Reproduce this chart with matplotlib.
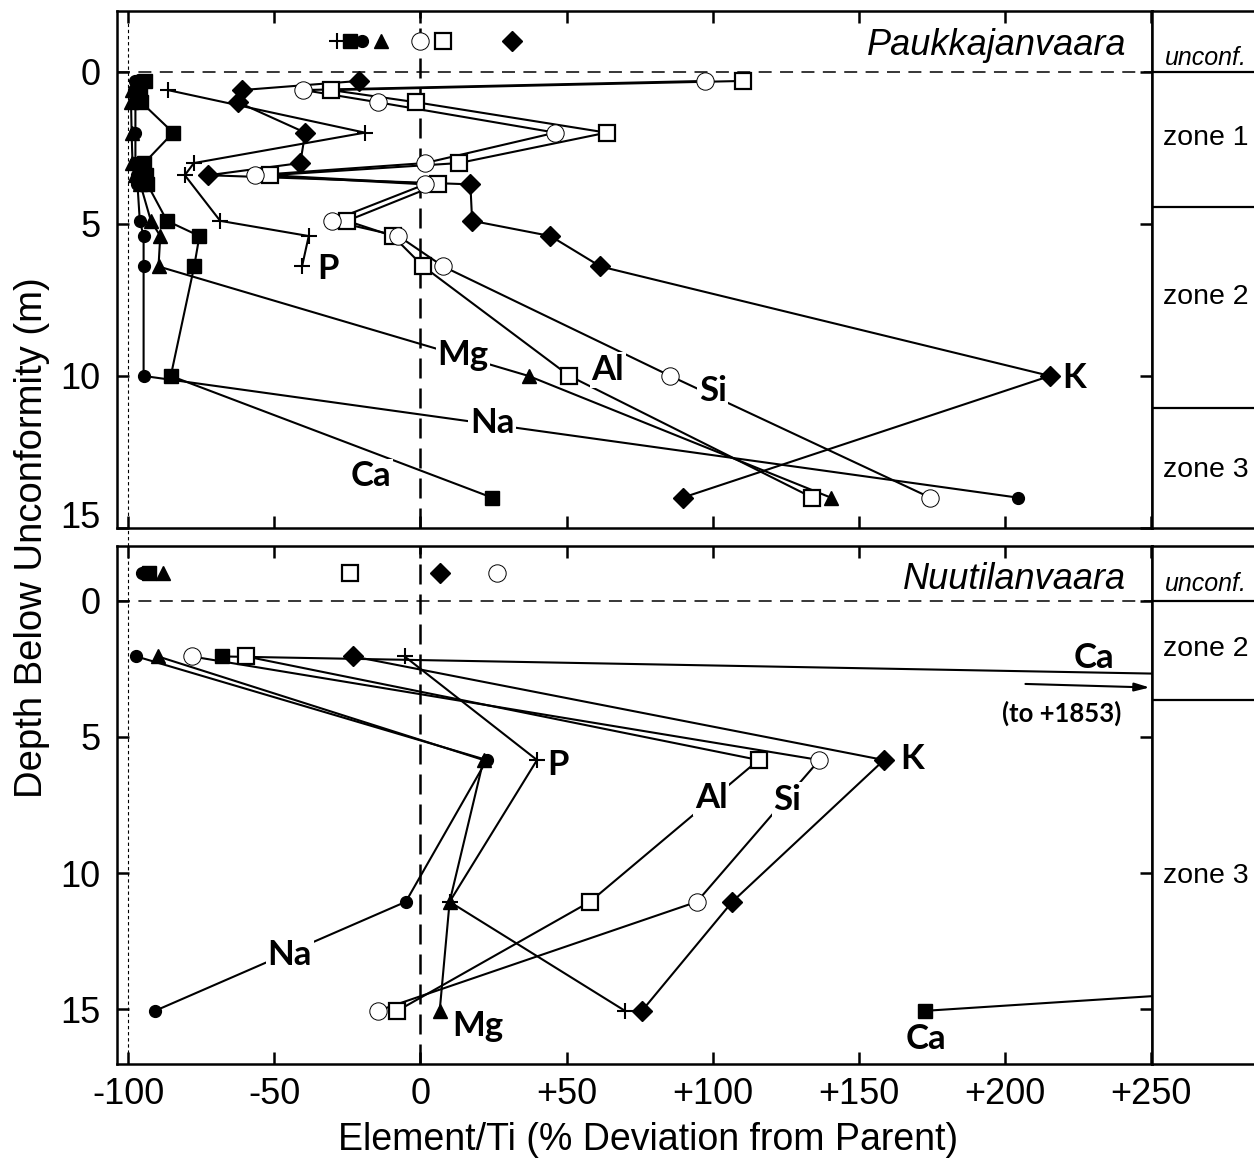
import matplotlib.pyplot as plt
from matplotlib.lines import Line2D

plt.rcParams['font.family'] = ['Liberation Sans', 'DejaVu Sans']

# ---- Paukkajanvaara (upper panel), % deviation of Element/Ti from parent ----
depth_p = [0.3, 0.6, 1.0, 2.0, 3.0, 3.4, 3.7, 4.9, 5.4, 6.4, 10.0, 14.0]
na_p = [-97.5, -98, -97.5, -97.5, -97.5, -97, -96.8, -96, -94.7, -94.7, -94.7, 204.3]
mg_p = [-97, -98.5, -99, -98.8, -98.5, -97.5, -95.8, -92.2, -89, -89.6, 37, 140.4]
ca_p = [-94.2, -96, -95.5, -84.6, -94.5, -94, -93.4, -86.7, -75.6, -77.4, -85.4, 24.5]
k_p = [-21.1, -61.1, -62.4, -39.4, -41.1, -72.5, 17.1, 17.7, 44.5, 61.6, 215.4, 89.8]
al_p = [110.3, -30.5, -1.5, 63.7, 13.2, -51.5, 6.0, -25.1, -9.4, 1.0, 51, 134.1]
si_p = [97.4, -40.0, -14.6, 46.2, 1.6, -56.5, 1.6, -30.3, -7.5, 7.8, 85.5, 174.4]
depth_p_P = [0.6, 2.0, 3.0, 3.4, 4.9, 5.4, 6.4]
p_p = [-86.4, -19.0, -77.5, -80.6, -68.5, -38.2, -40.5]

# parent values plotted above the unconformity
parent_depth = -1.0
parent_p = {'P': -28.5, 'Ca': -24, 'Na': -20, 'Mg': -13.5, 'Si': 0, 'Al': 7.6, 'K': 31.2}

# ---- Nuutilanvaara (lower panel) ----
depth_n = [2.05, 5.85, 11.05, 15.05]
na_n = [-97.2, 22.7, -5.0, -90.8]
mg_n = [-89.8, 21.6, 10.0, 6.6]
ca_n = [-68.0, 1853, 750, 172.6]
k_n = [-23.0, 158.6, 106.7, 75.8]
al_n = [-59.7, 115.7, 58.0, -7.9]
si_n = [-78.3, 136.5, 94.6, -14.6]
p_n = [-5.4, 39.9, 10.0, 70.0]
parent_n = {'Na': -95.2, 'Ca': -93, 'Mg': -88.2, 'Al': -24, 'K': 6.6, 'Si': 26.2}

xticks = [-100, -50, 0, 50, 100, 150, 200, 250]
xticklabels = ['-100', '-50', '0', '+50', '+100', '+150', '+200', '+250']
yticks = [0, 5, 10, 15]

styles = {
    'Na': dict(marker='o', ms=8.5, mfc='black', mec='black', mew=1),
    'Mg': dict(marker='^', ms=10, mfc='black', mec='black', mew=1),
    'Ca': dict(marker='s', ms=10, mfc='black', mec='black', mew=1),
    'K': dict(marker='D', ms=10, mfc='black', mec='black', mew=1),
    'Al': dict(marker='s', ms=12, mfc='white', mec='black', mew=1.6),
    'Si': dict(marker='o', ms=12.5, mfc='white', mec='black', mew=0.7),
    'P': dict(marker='+', ms=12, mfc='black', mec='black', mew=1.5),
}

label_kw = dict(fontsize=25, fontweight='bold', family=['Lato', 'DejaVu Sans'],
                ha='center', va='center', zorder=3,
                bbox=dict(boxstyle='square,pad=0.05', fc='white', ec='none'))


def draw_series(ax, depth, values, name):
    ax.plot(values, depth, color='black', lw=1.5, zorder=2)
    ax.plot(values, depth, ls='none', zorder=4, **styles[name])


def draw_parents(ax, parents):
    for name, v in parents.items():
        ax.plot([v], [parent_depth], ls='none', zorder=4, **styles[name])


def setup_axes(ax, ylim, show_xlabels):
    ax.set_xlim(-103.8, 250.3)
    ax.set_ylim(ylim)
    ax.set_xticks(xticks)
    ax.set_xticklabels(xticklabels)
    ax.set_yticks(yticks)
    ax.tick_params(direction='in', length=8.5, width=1.8, top=True, right=True,
                   labelsize=26, labelbottom=show_xlabels)
    ax.tick_params(axis='x', pad=9)
    ax.tick_params(axis='y', pad=12)
    for s in ax.spines.values():
        s.set_linewidth(1.8)
    ax.axvline(0, color='black', lw=1.8, dashes=(8, 4), zorder=1)
    ax.axhline(0, color='black', lw=1.1, dashes=(8.5, 5.5), zorder=1)


def zone_column(zax, ylim, bounds, labels):
    zax.set_xlim(0, 1)
    zax.set_ylim(ylim)
    zax.set_xticks([])
    zax.set_yticks([])
    zax.spines['right'].set_visible(False)
    for s in zax.spines.values():
        s.set_linewidth(1.8)
    for b in bounds:
        zax.axhline(b, color='black', lw=1.6)
    for text, y, italic, size in labels:
        zax.text(0.52, y, text, ha='center', va='center', fontsize=size,
                 style='italic' if italic else 'normal')


W, H = 1254, 1166
fig = plt.figure(figsize=(W / 100, H / 100), dpi=100)
ax1 = fig.add_axes([117 / W, 1 - 528 / H, (1152 - 117) / W, (528 - 11) / H])
ax2 = fig.add_axes([117 / W, 1 - 1064 / H, (1152 - 117) / W, (1064 - 546) / H])
z1 = fig.add_axes([1152 / W, 1 - 528 / H, 104 / W, (528 - 11) / H])
z2 = fig.add_axes([1152 / W, 1 - 1064 / H, 104 / W, (1064 - 546) / H])

setup_axes(ax1, (15, -2), False)
setup_axes(ax2, (17, -2), True)
# lift the "15" of the upper panel off the panel edge
ax1.get_yticklabels()[-1].set_verticalalignment('baseline')

# upper panel
for name, vals in [('Na', na_p), ('Mg', mg_p), ('Ca', ca_p), ('K', k_p),
                   ('Al', al_p), ('Si', si_p)]:
    draw_series(ax1, depth_p, vals, name)
draw_series(ax1, depth_p_P, p_p, 'P')
draw_parents(ax1, parent_p)

ax1.text(-31.5, 6.5, 'P', **label_kw)
ax1.text(14.6, 9.31, 'Mg', **label_kw)
ax1.text(64.1, 9.8, 'Al', **label_kw)
ax1.text(100.0, 10.5, 'Si', **label_kw)
ax1.text(223.5, 10.07, 'K', **label_kw)
ax1.text(24.5, 11.55, 'Na', **label_kw)
ax1.text(-16.8, 13.3, 'Ca', **label_kw)
ax1.text(241.5, -0.85, 'Paukkajanvaara', ha='right', va='center',
         fontsize=26, style='italic', zorder=3)

# lower panel
for name, vals in [('Na', na_n), ('Mg', mg_n), ('Ca', ca_n), ('K', k_n),
                   ('Al', al_n), ('Si', si_n), ('P', p_n)]:
    draw_series(ax2, depth_n, vals, name)
draw_parents(ax2, parent_n)

ax2.text(47.0, 6.05, 'P', **label_kw)
ax2.text(99.5, 7.25, 'Al', **label_kw)
ax2.text(125.5, 7.32, 'Si', **label_kw)
ax2.text(168.2, 5.81, 'K', **label_kw)
ax2.text(-44.7, 13.0, 'Na', **label_kw)
ax2.text(19.5, 15.6, 'Mg', **label_kw)
ax2.text(173.0, 16.1, 'Ca', **label_kw)
ax2.text(230.6, 2.12, 'Ca', fontsize=25, fontweight='bold',
         family=['Lato', 'DejaVu Sans'], ha='center', va='center')
ax2.text(219.5, 4.13, '(to +1853)', fontsize=18.5, fontweight='bold',
         family=['Lato', 'DejaVu Sans'], ha='center', va='center')
ax2.annotate('', xy=(249.5, 3.19), xytext=(207, 3.06),
             arrowprops=dict(arrowstyle='-|>,head_length=0.9,head_width=0.25',
                             lw=1.5, color='black', shrinkA=0, shrinkB=0))
ax2.text(241.5, -0.77, 'Nuutilanvaara', ha='right', va='center',
         fontsize=26, style='italic', zorder=3)

# zone columns
zone_column(z1, (15, -2), [0, 4.46, 11.05],
            [('unconf.', -0.46, True, 18), ('zone 1', 2.16, False, 20.5),
             ('zone 2', 7.4, False, 20.5), ('zone 3', 13.1, False, 20.5)])
zone_column(z2, (17, -2), [0, 3.64],
            [('unconf.', -0.59, True, 18), ('zone 2', 1.76, False, 20.5),
             ('zone 3', 10.1, False, 20.5)])

# thin dotted line at -100 running through both panels
xf = fig.transFigure.inverted().transform(ax1.transData.transform((-100, 0)))[0]
fig.add_artist(Line2D([xf, xf], [1 - 11 / H, 1 - 1064 / H], color='black',
                      lw=0.8, dashes=(3, 2.5)))

fig.text(648 / W, 1 - 1140 / H, 'Element/Ti (% Deviation from Parent)',
         ha='center', va='center', fontsize=27)
fig.text(32 / W, 1 - 538 / H, 'Depth Below Unconformity (m)', rotation=90,
         ha='center', va='center', fontsize=27.5)

fig.savefig('out.png', dpi=100)
